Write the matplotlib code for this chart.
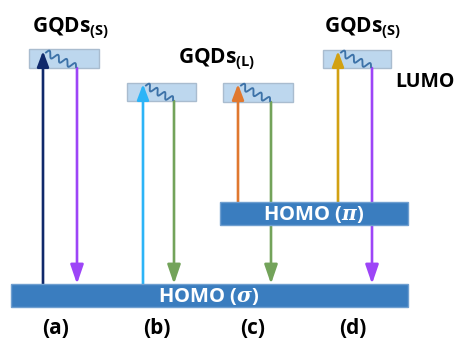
import numpy as np
import matplotlib
matplotlib.use("Agg")
import matplotlib.pyplot as plt
from matplotlib.patches import Rectangle

plt.rcParams['font.family'] = ['Open Sans', 'DejaVu Sans']
plt.rcParams['mathtext.fontset'] = 'custom'
plt.rcParams['mathtext.bf'] = 'Open Sans:bold'
plt.rcParams['mathtext.rm'] = 'Open Sans'
plt.rcParams['mathtext.it'] = 'DejaVu Serif:italic:bold'
plt.rcParams['mathtext.bfit'] = 'DejaVu Serif:italic:bold'

# ---- diagram content ----
panel_labels = ['(a)', '(b)', '(c)', '(d)']
panel_x = [56, 157, 253, 353]
lumo_titles = [r'$\mathbf{GQDs_{(S)}}$', r'$\mathbf{GQDs_{(L)}}$', r'$\mathbf{GQDs_{(S)}}$']
lumo_title_pos = [(32, 32), (178, 63), (324, 32)]
# LUMO boxes: (x0, x1, ytop, ybottom)
lumo_boxes = [(29, 99, 49, 68), (127, 196, 83, 101), (223, 293, 83, 102), (323, 391, 50, 68)]
# HOMO bars: (x0, x1, ytop, ybottom, label)
homo_bars = [(11, 408, 284, 307, r'HOMO ($\mathit{\sigma}$)'),
             (220, 408, 202, 225, r'HOMO ($\mathit{\pi}$)')]
# excitation arrows
up_x = [43, 143, 238, 338]
up_from = [284, 284, 202, 202]
up_to = [51, 84, 84, 51]
up_colors = ['#10296b', '#2cb4f7', '#e0782f', '#d2a112']
# emission arrows
down_x = [77, 174, 271, 372]
down_from = [68, 101, 102, 68]
down_to = [284, 284, 284, 284]
down_colors = ['#9d45f7', '#73a35a', '#73a35a', '#9d45f7']
box_face = '#bdd7ee'
box_edge = '#a9bccf'
bar_face = '#3a7dbf'
bar_edge = '#6f9fd0'
wave_color = '#3d72a8'

fig = plt.figure(figsize=(4.57, 3.38), dpi=100)
ax = fig.add_axes([0, 0, 1, 1])
ax.set_xlim(0, 457)
ax.set_ylim(338, 0)
ax.axis('off')

# LUMO boxes
for (x0, x1, yt, yb) in lumo_boxes:
    ax.add_patch(Rectangle((x0, yt), x1 - x0, yb - yt, facecolor=box_face,
                           edgecolor=box_edge, lw=1.0, zorder=1))

# up arrows
for x, y0, y1, c in zip(up_x, up_from, up_to, up_colors):
    ax.annotate('', xy=(x, y1), xytext=(x, y0),
                arrowprops=dict(arrowstyle='-|>,head_length=0.85,head_width=0.32',
                                mutation_scale=11, lw=1.9, color=c,
                                shrinkA=0, shrinkB=0), zorder=3)
# down arrows
for x, y0, y1, c in zip(down_x, down_from, down_to, down_colors):
    ax.annotate('', xy=(x, y1), xytext=(x, y0),
                arrowprops=dict(arrowstyle='-|>,head_length=1.05,head_width=0.36',
                                mutation_scale=11, lw=1.9, color=c,
                                shrinkA=0, shrinkB=0), zorder=3)

# wavy relaxation lines
for xu, yu, xd, yd in zip(up_x, up_to, down_x, down_from):
    p0 = np.array([xu + 3, yu + 1.5])
    p1 = np.array([xd - 1, yd - 1])
    t = np.linspace(0, 1, 200)
    d = p1 - p0
    n = np.array([d[1], -d[0]]) / np.hypot(*d)
    amp = 3.2
    pts = p0[None, :] + t[:, None] * d[None, :] + (amp * np.sin(2 * np.pi * 3.5 * t))[:, None] * n[None, :]
    ax.plot(pts[:, 0], pts[:, 1], color=wave_color, lw=1.35, zorder=4)

# HOMO bars (drawn over the arrows)
for (x0, x1, yt, yb, lab) in homo_bars:
    ax.add_patch(Rectangle((x0, yt), x1 - x0, yb - yt, facecolor=bar_face,
                           edgecolor=bar_edge, lw=1.0, zorder=5))
    ax.text((x0 + x1) / 2 + (0 if x0 > 100 else -1), (yt + yb) / 2 + 1, lab,
            color='white', fontsize=14.5, fontweight='bold',
            ha='center', va='center', zorder=6)

# titles
for lab, (x, y) in zip(lumo_titles, lumo_title_pos):
    ax.text(x, y, lab, fontsize=15, ha='left', va='baseline', color='black')
ax.text(395, 82, 'LUMO', fontsize=14, fontweight='bold', ha='left', va='center', color='black')

for lab, x in zip(panel_labels, panel_x):
    ax.text(x, 328, lab, fontsize=15, fontweight='bold', ha='center', va='center', color='black')

fig.savefig('out.png', dpi=100)
